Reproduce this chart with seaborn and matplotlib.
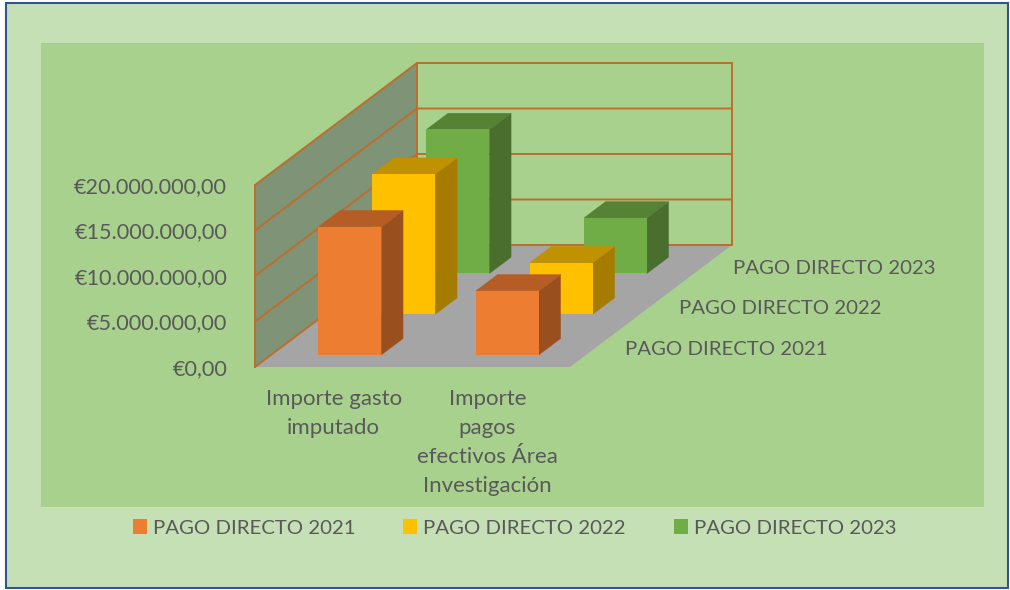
import matplotlib
matplotlib.use("Agg")
import matplotlib.pyplot as plt
import matplotlib.transforms as mtransforms
from matplotlib.patches import Patch, Polygon, Rectangle
from matplotlib.ticker import FuncFormatter
import pandas as pd
import seaborn as sns

categorias = ["Importe gasto\nimputado", "Importe\npagos\nefectivos Área\nInvestigación"]
series = ["PAGO DIRECTO 2021", "PAGO DIRECTO 2022", "PAGO DIRECTO 2023"]
valores_2021 = [14070000, 7030000]
valores_2022 = [15380000, 5660000]
valores_2023 = [15820000, 6100000]
ticks_y = [0, 5000000, 10000000, 15000000, 20000000]

colores = ["#ED7D31", "#FFC000", "#70AD47"]
colores_lado = ["#9A4F1E", "#A67C00", "#4A6E2D"]
colores_top = ["#B55D24", "#C09100", "#558235"]
color_texto = "#595959"
color_rejilla = "#BC6E2E"

# oblique projection: one depth unit moves this much in data units
DX = 54 / 157.5
DY = 40.67 / 9.1 * 1e6
N_DEPTH = 3
BAR_START = 0.3
BAR_DEPTH = 0.4


def proj(x, y, d):
    return (x + d * DX, y + d * DY)


sns.set_theme(style="white")
plt.rcParams["font.family"] = ["Lato", "DejaVu Sans"]
FS = 14.7

df = pd.DataFrame({
    "categoria": categorias * 3,
    "serie": [s for s in series for _ in categorias],
    "valor": valores_2021 + valores_2022 + valores_2023,
})

fig = plt.figure(figsize=(10.1, 5.9), dpi=100, facecolor="white")
W, H = 1010, 590

# chart frame and plot area
fig.add_artist(Rectangle((5.5 / W, 1 - 588 / H), 1002 / W, 585 / H, transform=fig.transFigure,
                         facecolor="#C5E0B4", edgecolor="#2F5597", lw=1.5, zorder=-3))
fig.add_artist(Rectangle((41 / W, 1 - 507 / H), 943 / W, 464 / H, transform=fig.transFigure,
                         facecolor="#A9D18E", edgecolor="none", zorder=-2))

ax = fig.add_axes([255 / W, 1 - 367 / H, 315 / W, 182 / H])
ax.patch.set_visible(False)

orden = series[::-1]
sns.barplot(data=df, x="categoria", y="valor", hue="serie", hue_order=orden,
            palette=dict(zip(series, colores)), dodge=False, width=0.4, saturation=1,
            edgecolor="none", linewidth=0, legend=False, ax=ax)

x0, x1 = -0.5, 1.5
y_max = ticks_y[-1]
ax.set_xlim(x0, x1)
ax.set_ylim(0, y_max)
ax.set_xlabel("")
ax.set_ylabel("")
sns.despine(ax=ax, left=True, bottom=True, top=True, right=True)

# walls and floor
ax.add_patch(Polygon([proj(x0, 0, 0), proj(x0, y_max, 0), proj(x0, y_max, N_DEPTH), proj(x0, 0, N_DEPTH)],
                     facecolor="#7F9376", edgecolor="none", zorder=1, clip_on=False))
ax.add_patch(Polygon([proj(x0, 0, 0), proj(x1, 0, 0), proj(x1, 0, N_DEPTH), proj(x0, 0, N_DEPTH)],
                     facecolor="#A5A5A5", edgecolor="none", zorder=1, clip_on=False))
for t in ticks_y:
    xs, ys = zip(proj(x0, t, 0), proj(x0, t, N_DEPTH), proj(x1, t, N_DEPTH))
    ax.plot(xs, ys, color=color_rejilla, lw=1.4, zorder=2, clip_on=False)
for x, d in [(x0, 0), (x0, N_DEPTH), (x1, N_DEPTH)]:
    xs, ys = zip(proj(x, 0, d), proj(x, y_max, d))
    ax.plot(xs, ys, color=color_rejilla, lw=1.4, zorder=2, clip_on=False)

# bars: seaborn draws the fronts, the sides and tops follow from each bar
for cont, nombre in zip(ax.containers, orden):
    i = series.index(nombre)
    d0 = i + BAR_START
    d1 = d0 + BAR_DEPTH
    z = 10 + (2 - i) * 3
    shift = mtransforms.Affine2D().translate(d0 * DX, d0 * DY) + ax.transData
    for bar in cont:
        bar.set_transform(shift)
        bar.set_zorder(z + 2)
        bar.set_clip_on(False)
        bx0, bx1 = bar.get_x(), bar.get_x() + bar.get_width()
        top = bar.get_height()
        ax.add_patch(Polygon([proj(bx1, 0, d0), proj(bx1, top, d0), proj(bx1, top, d1), proj(bx1, 0, d1)],
                             facecolor=colores_lado[i], edgecolor=colores_lado[i], lw=0.3, zorder=z, clip_on=False))
        ax.add_patch(Polygon([proj(bx0, top, d0), proj(bx1, top, d0), proj(bx1, top, d1), proj(bx0, top, d1)],
                             facecolor=colores_top[i], edgecolor=colores_top[i], lw=0.3, zorder=z + 1, clip_on=False))

# axes text
ax.set_yticks(ticks_y)
ax.yaxis.set_major_formatter(FuncFormatter(
    lambda v, _: "€" + f"{v:,.2f}".replace(",", "#").replace(".", ",").replace("#", ".")))
ax.tick_params(axis="y", length=0, pad=20, labelsize=15.6, labelcolor=color_texto)
ax.tick_params(axis="x", length=0, pad=16, labelsize=16, labelcolor=color_texto)
for lab in ax.get_xticklabels():
    lab.set_linespacing(1.56)
etiqueta = ax.get_xticklabels()[1]
etiqueta.set_transform(etiqueta.get_transform() + mtransforms.Affine2D().translate(-4, 0))

for i, nombre in enumerate(series):
    ax.annotate(nombre, xy=proj(x1, 0, i + 0.5), xytext=(20, -2), textcoords="offset points",
                ha="left", va="center", fontsize=FS, color=color_texto, annotation_clip=False)

handles = [Patch(facecolor=c, edgecolor="none", label=s) for c, s in zip(colores, series)]
fig.legend(handles=handles, ncols=3, loc="center", bbox_to_anchor=(514.5 / W, 1 - 528 / H), frameon=False,
           fontsize=FS, labelcolor=color_texto, handlelength=0.686, handleheight=0.686,
           handletextpad=0.29, columnspacing=2.35, borderpad=0)

fig.savefig("out.png", dpi=100, facecolor="white")
